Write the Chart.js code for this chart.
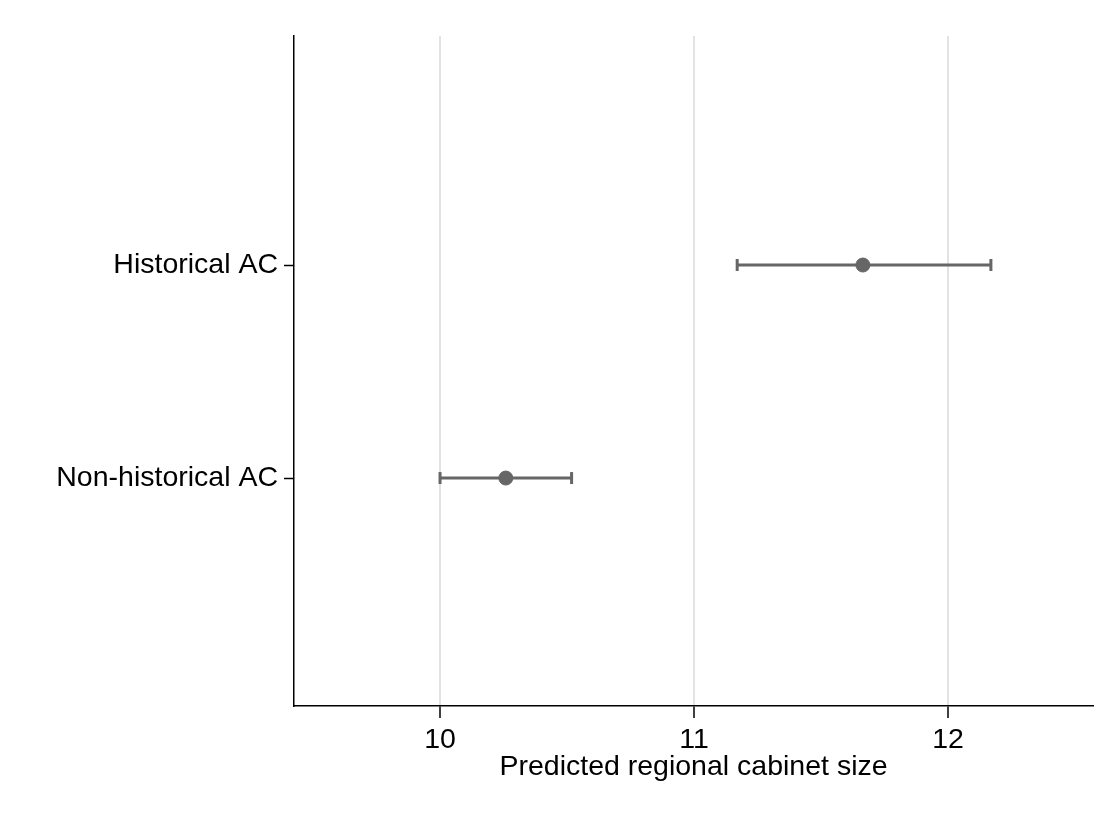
<!DOCTYPE html>
<html>
<head>
<meta charset="utf-8">
<title>Predicted regional cabinet size</title>
<script src="https://cdn.jsdelivr.net/npm/chart.js@4/dist/chart.umd.min.js"></script>
<style>
    html, body { margin: 0; padding: 0; background: #ffffff; }
    canvas { display: block; }
</style>
</head>
<body>
<canvas id="marginsChart" width="1119" height="814"></canvas>
<script>
// categories (top to bottom) and their y positions
const categories = ["Historical AC", "Non-historical AC"];
const categoryPos = [2, 1];

// predicted values and 95% CI
const estimates = [11.665, 10.259];
const ciLower = [11.170, 10.000];
const ciUpper = [12.169, 10.518];

// axis ticks
const xTicks = [10, 11, 12];
const xMin = 9.425;
const xMax = 12.571;
const yMin = -0.07;
const yMax = 3.075;

const FONT = "'Liberation Sans', Arial, Helvetica, sans-serif";
const MARK = "#666666";

const datasets = [];

categories.forEach((cat, i) => {
    datasets.push({
        type: "line",
        label: cat + " CI",
        data: [
            { x: ciLower[i], y: categoryPos[i] },
            { x: ciUpper[i], y: categoryPos[i] }
        ],
        borderColor: MARK,
        borderWidth: 3,
        pointStyle: "line",
        rotation: 90,
        pointRadius: 6,
        pointBorderWidth: 3,
        pointBorderColor: MARK,
        pointHoverRadius: 6,
        fill: false
    });
});

datasets.push({
    type: "scatter",
    label: "Predicted",
    data: categories.map((c, i) => ({ x: estimates[i], y: categoryPos[i] })),
    backgroundColor: MARK,
    borderColor: MARK,
    pointRadius: 7,
    pointHoverRadius: 7
});

const ctx = document.getElementById("marginsChart").getContext("2d");
new Chart(ctx, {
    type: "scatter",
    data: { datasets: datasets },
    options: {
        responsive: false,
        animation: false,
        layout: { padding: { top: 36, right: 26, bottom: 0, left: 0 } },
        plugins: {
            legend: { display: false },
            tooltip: { enabled: false }
        },
        scales: {
            x: {
                type: "linear",
                min: xMin,
                max: xMax,
                afterBuildTicks: (scale) => { scale.ticks = xTicks.map(v => ({ value: v })); },
                afterFit: (scale) => { scale.height = 108; },
                ticks: {
                    color: "#000000",
                    padding: 5,
                    maxRotation: 0,
                    font: { family: FONT, size: 28.5 }
                },
                grid: {
                    display: true,
                    drawOnChartArea: true,
                    color: "#e3e3e3",
                    lineWidth: 2,
                    tickColor: "#000000",
                    tickWidth: 1.5,
                    tickLength: 12
                },
                border: { display: true, color: "#000000", width: 1.5 },
                title: {
                    display: true,
                    text: "Predicted regional cabinet size",
                    color: "#000000",
                    font: { family: FONT, size: 28.5 },
                    padding: { top: 0, bottom: 30 }
                }
            },
            y: {
                type: "linear",
                min: yMin,
                max: yMax,
                afterBuildTicks: (scale) => { scale.ticks = categoryPos.map(v => ({ value: v })); },
                afterFit: (scale) => { scale.width = 294; },
                ticks: {
                    color: "#000000",
                    padding: 6,
                    font: { family: FONT, size: 28.5 },
                    callback: (value) => {
                        const idx = categoryPos.indexOf(value);
                        return idx >= 0 ? categories[idx] : "";
                    }
                },
                grid: {
                    display: true,
                    drawOnChartArea: false,
                    tickColor: "#000000",
                    tickWidth: 1.5,
                    tickLength: 10
                },
                border: { display: true, color: "#000000", width: 1.5 }
            }
        }
    }
});
</script>
</body>
</html>
